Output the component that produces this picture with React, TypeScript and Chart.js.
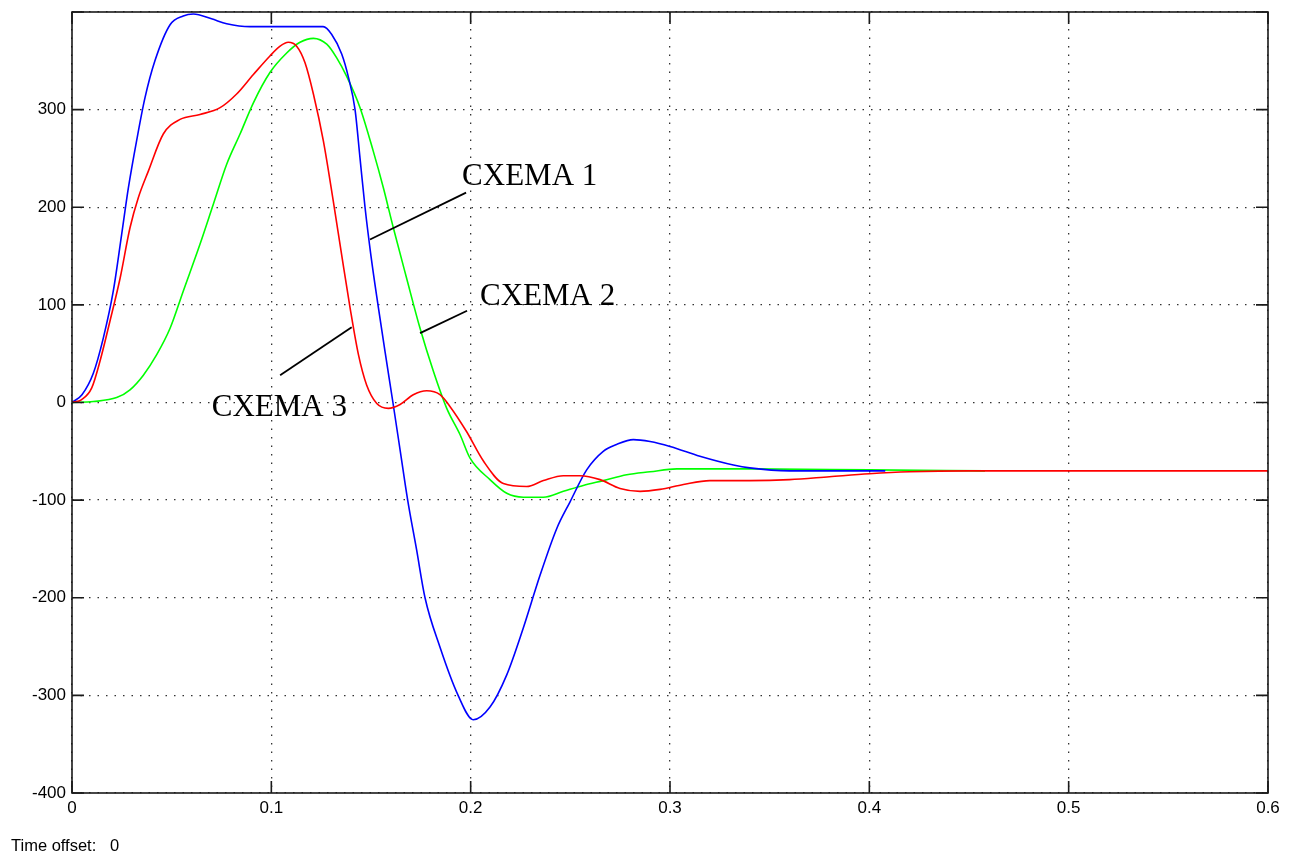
import React, { useEffect, useRef } from 'react';
import { Chart, registerables } from 'chart.js';
Chart.register(...registerables);

// CXEMA 1 (blue)
const blueT = [0, 0.005, 0.0107, 0.0157, 0.0207, 0.0249, 0.0283, 0.0324, 0.0366, 0.0416, 0.0492, 0.0558, 0.0609, 0.07, 0.0776, 0.0893, 0.1, 0.11, 0.12, 0.126, 0.1303, 0.1353, 0.1387, 0.142, 0.1445, 0.147, 0.15, 0.1535, 0.1572, 0.161, 0.1647, 0.1684, 0.1728, 0.1771, 0.1845, 0.1937, 0.2013, 0.2097, 0.2181, 0.2264, 0.2348, 0.2432, 0.2498, 0.2582, 0.2665, 0.2732, 0.2816, 0.29, 0.3, 0.315, 0.3318, 0.34, 0.36, 0.38, 0.408];
const blueV = [0, 8, 30, 66, 114, 172, 220, 268, 312, 350, 387, 396, 398, 393, 388, 385, 385, 385, 385, 385, 377, 357, 333, 300, 250, 200, 150, 100, 50, 0, -50, -100, -150, -200, -250, -300, -325, -312, -279, -231, -177, -129, -102, -69, -50, -43, -38, -40, -45, -55, -64, -67, -70, -70, -70];

// CXEMA 2 (green)
const greenT = [0, 0.0107, 0.0224, 0.0291, 0.0358, 0.0425, 0.0492, 0.0558, 0.0642, 0.0709, 0.0776, 0.0843, 0.091, 0.0993, 0.1077, 0.1144, 0.1211, 0.1278, 0.1328, 0.1378, 0.1445, 0.1512, 0.1562, 0.1612, 0.1679, 0.1746, 0.1813, 0.188, 0.1947, 0.1997, 0.2097, 0.2181, 0.2264, 0.2365, 0.2465, 0.2565, 0.2665, 0.2783, 0.29, 0.3034, 0.34, 0.4, 0.458];
const greenV = [0, 1, 5, 13, 28, 49, 76, 114, 162, 203, 244, 275, 307, 338, 358, 369, 373, 367, 353, 334, 302, 257, 220, 179, 127, 76, 32, -6, -33, -57, -79, -93, -97, -97, -91, -85, -80, -74, -71, -68, -68, -69, -70];

// CXEMA 3 (red)
const redT = [0, 0.0049, 0.0099, 0.014, 0.019, 0.0241, 0.0291, 0.0333, 0.0383, 0.0458, 0.0542, 0.0642, 0.0743, 0.0826, 0.091, 0.0993, 0.1044, 0.1085, 0.1127, 0.1169, 0.1211, 0.1261, 0.1311, 0.1353, 0.1395, 0.1437, 0.1478, 0.1529, 0.1587, 0.1646, 0.1712, 0.178, 0.1846, 0.1896, 0.198, 0.2064, 0.2164, 0.2281, 0.2365, 0.2465, 0.2548, 0.2649, 0.2749, 0.285, 0.295, 0.3067, 0.32, 0.34, 0.36, 0.38, 0.4, 0.42, 0.45, 0.5, 0.6];
const redV = [0, 3, 15, 42, 83, 127, 179, 210, 237, 275, 290, 295, 302, 316, 336, 355, 365, 369, 365, 348, 316, 268, 206, 151, 97, 49, 18, -1, -6, -2, 8, 12, 8, -4, -30, -60, -83, -86, -80, -75, -75, -79, -88, -91, -89, -84, -80, -80, -79, -76, -73, -71, -70, -70, -70];

const xTicks = [0, 0.1, 0.2, 0.3, 0.4, 0.5, 0.6];
const yTicks = [-400, -300, -200, -100, 0, 100, 200, 300, 400];

// annotation labels: text, label anchor (t, v), leader line from (t, v) to (t, v)
const labelTexts = ['CXEMA 1', 'CXEMA 2', 'CXEMA 3'];
const labelPos = [[0.1957, 223], [0.2047, 100], [0.0701, -14]];
const leaderLines = [[0.1495, 167, 0.1977, 215], [0.1746, 71, 0.1982, 94], [0.1403, 77, 0.1044, 28]];

const toPts = (t: number[], v: number[]) => t.map((x, i) => ({ x, y: v[i] }));

const framePlugin = {
  id: 'frame',
  afterDatasetsDraw(chart: any) {
    const { ctx, chartArea: a, scales } = chart;
    ctx.save();
    ctx.strokeStyle = '#1a1a1a';
    ctx.lineWidth = 1.6;
    ctx.strokeRect(a.left, a.top, a.right - a.left, a.bottom - a.top);
    const L = 12;
    ctx.beginPath();
    xTicks.forEach((t) => {
      const px = scales.x.getPixelForValue(t);
      ctx.moveTo(px, a.bottom); ctx.lineTo(px, a.bottom - L);
      ctx.moveTo(px, a.top); ctx.lineTo(px, a.top + L);
    });
    yTicks.forEach((v) => {
      const py = scales.y.getPixelForValue(v);
      ctx.moveTo(a.left, py); ctx.lineTo(a.left + L, py);
      ctx.moveTo(a.right, py); ctx.lineTo(a.right - L, py);
    });
    ctx.stroke();

    // annotations
    ctx.strokeStyle = '#000';
    ctx.lineWidth = 1.8;
    leaderLines.forEach(([t1, v1, t2, v2]) => {
      ctx.beginPath();
      ctx.moveTo(scales.x.getPixelForValue(t1), scales.y.getPixelForValue(v1));
      ctx.lineTo(scales.x.getPixelForValue(t2), scales.y.getPixelForValue(v2));
      ctx.stroke();
    });
    ctx.fillStyle = '#000';
    ctx.font = '31px "Liberation Serif", "Times New Roman", serif';
    ctx.textAlign = 'left';
    ctx.textBaseline = 'alphabetic';
    labelTexts.forEach((txt, i) => {
      ctx.fillText(txt, scales.x.getPixelForValue(labelPos[i][0]), scales.y.getPixelForValue(labelPos[i][1]));
    });
    ctx.restore();
  },
};

export default function App() {
  const ref = useRef<HTMLCanvasElement | null>(null);
  useEffect(() => {
    if (!ref.current) return;
    const tickFont = { family: '"Liberation Sans", Arial, sans-serif', size: 17 };
    const chart = new Chart(ref.current, {
      type: 'line',
      data: {
        datasets: [
          { label: 'CXEMA 3', data: toPts(redT, redV), borderColor: '#ff0000', borderWidth: 1.6, pointRadius: 0, cubicInterpolationMode: 'monotone', order: 0 },
          { label: 'CXEMA 1', data: toPts(blueT, blueV), borderColor: '#0000ff', borderWidth: 1.6, pointRadius: 0, cubicInterpolationMode: 'monotone', order: 1 },
          { label: 'CXEMA 2', data: toPts(greenT, greenV), borderColor: '#00ff00', borderWidth: 1.6, pointRadius: 0, cubicInterpolationMode: 'monotone', order: 2 },
        ],
      },
      options: {
        animation: false,
        responsive: false,
        parsing: true,
        layout: { autoPadding: false, padding: { top: 12, right: 25, left: 0, bottom: 0 } },
        plugins: { legend: { display: false }, tooltip: { enabled: false } },
        scales: {
          x: {
            type: 'linear',
            min: 0,
            max: 0.6,
            afterBuildTicks: (s: any) => { s.ticks = xTicks.map((value) => ({ value })); },
            afterFit: (s: any) => { s.height = 66; s.paddingLeft = 0; s.paddingRight = 0; s.paddingTop = 0; s.paddingBottom = 0; },
            ticks: {
              color: '#000',
              font: tickFont,
              padding: 5,
              maxRotation: 0,
              autoSkip: false,
              callback: (v: any) => String(Math.round(Number(v) * 10) / 10),
            },
            grid: { color: '#333', lineWidth: 1.3, drawTicks: false },
            border: { display: false, dash: [1.5, 7] },
          },
          y: {
            type: 'linear',
            min: -400,
            max: 400,
            afterBuildTicks: (s: any) => { s.ticks = yTicks.map((value) => ({ value })); },
            afterFit: (s: any) => { s.width = 72; s.paddingLeft = 0; s.paddingRight = 0; s.paddingTop = 0; s.paddingBottom = 0; },
            ticks: {
              color: '#000',
              font: tickFont,
              padding: 6,
              autoSkip: false,
              callback: (v: any) => (Number(v) === 400 ? '' : String(v)),
            },
            grid: { color: '#333', lineWidth: 1.3, drawTicks: false },
            border: { display: false, dash: [1.5, 7] },
          },
        },
      },
      plugins: [framePlugin],
    } as any);
    return () => chart.destroy();
  }, []);

  return (
    <div style={{ position: 'absolute', left: 0, top: 0, width: 1293, height: 859, background: '#fff' }}>
      <canvas ref={ref} width={1293} height={859} style={{ width: 1293, height: 859, display: 'block' }} />
      <div style={{ position: 'absolute', left: 11, top: 836, fontFamily: '"Liberation Sans", Arial, sans-serif', fontSize: 16.5, color: '#000', whiteSpace: 'pre' }}>
        {'Time offset:   0'}
      </div>
    </div>
  );
}
